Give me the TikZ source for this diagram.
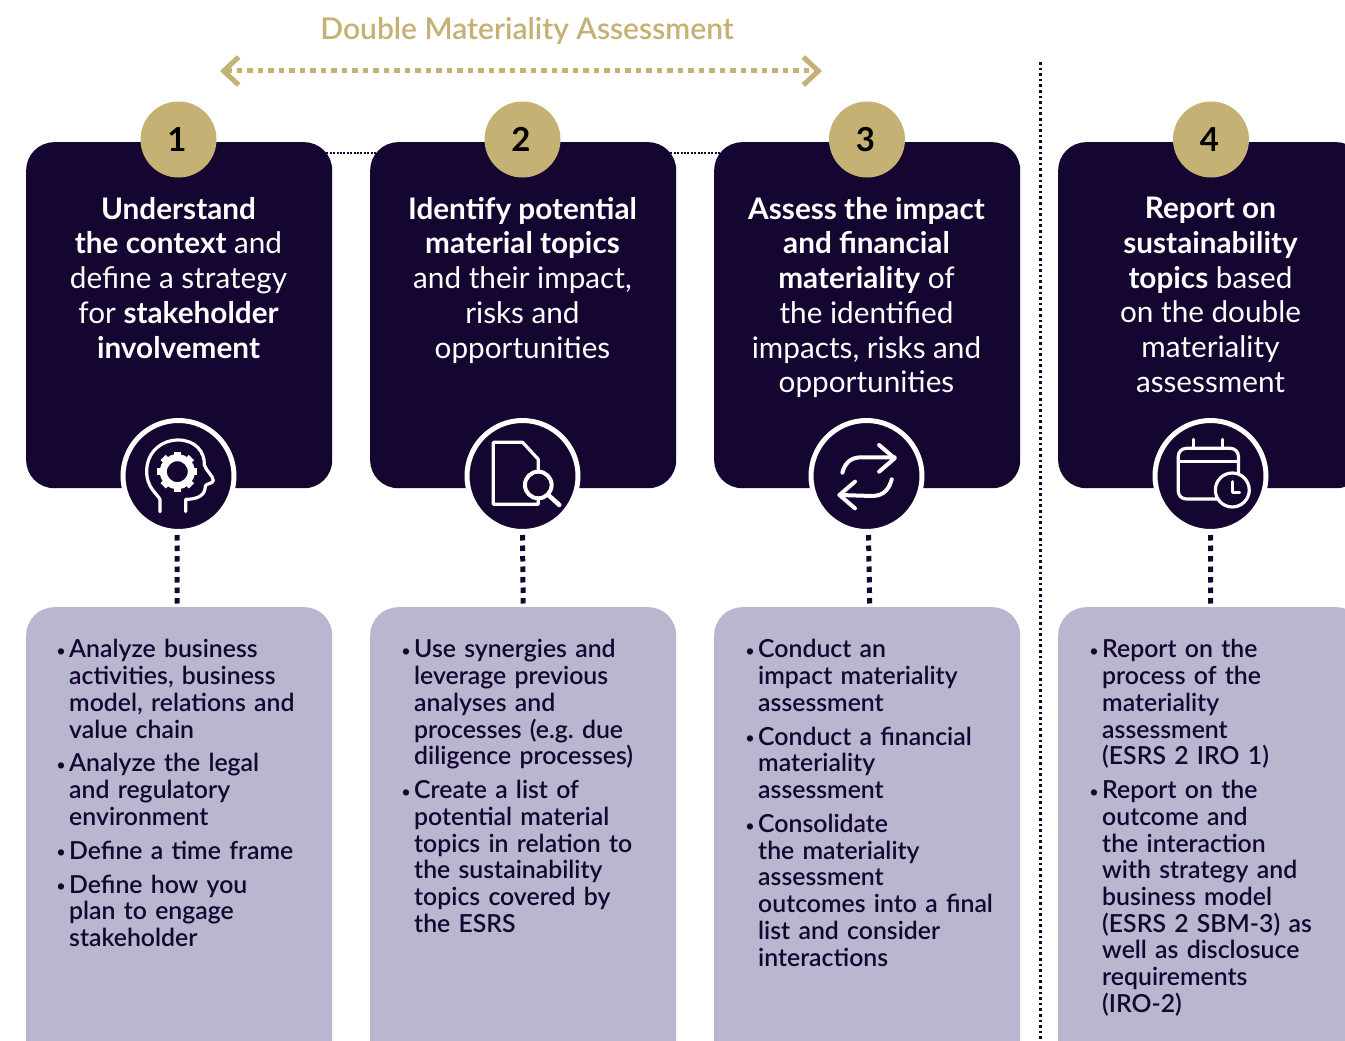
\documentclass[tikz,border=0pt]{standalone}
\usepackage{fontspec}
\setmainfont{Lato}
\newfontfamily\medfont{Lato Medium}
\newfontfamily\semifont{Lato Semibold}
\usetikzlibrary{arrows.meta}
\definecolor{navy}{HTML}{140631}
\definecolor{lilac}{HTML}{B9B6D0}
\definecolor{gold}{HTML}{C5B173}
\frenchspacing
\newcommand{\bitem}[2][7.2pt]{\par\vspace{#1}\noindent\makebox[0pt][r]{\makebox[12.5pt][l]{\raisebox{1.5pt}{\scalebox{.62}{\textbullet}}}}#2\par}
\newcommand{\numtxt}[1]{\hspace*{-3pt}\raisebox{-1pt}{#1}}
\tikzset{
  x=1pt,y=-1pt,
  headbox/.style={anchor=north west,fill=navy,rounded corners=28pt,minimum width=306pt,minimum height=346pt,inner sep=0pt},
  listbox/.style={anchor=north west,fill=lilac,rounded corners=28pt,minimum width=306pt,minimum height=480pt,inner sep=0pt},
  numdisc/.style={circle,fill=gold,minimum size=76pt,inner sep=0pt,font=\fontsize{33}{33}\selectfont\bfseries,text=black},
  icondisc/.style={circle,fill=navy,draw=white,line width=5pt,minimum size=111pt,inner sep=0pt},
  headtext/.style={anchor=north,align=center,text=white,inner sep=0pt,font=\fontsize{29.7}{34.7}\selectfont},
  listtext/.style={anchor=north west,inner sep=0pt,text width=270pt,text=navy,font=\fontsize{24.8}{26.7}\semifont},
  feet/.style={line width=5pt,draw=navy,dash pattern=on 5.5pt off 5pt},
  dots/.style={line width=2.4pt,draw=navy,dash pattern=on 2pt off 1.4pt},
  vdots/.style={line width=2.6pt,draw=navy,dash pattern=on 2.6pt off 3pt},
  span/.style={line width=5pt,draw=gold,dash pattern=on 5.5pt off 5pt,{Straight Barb[length=15pt,width=28pt,line width=5pt]}-{Straight Barb[length=15pt,width=28pt,line width=5pt]}},
  ico/.style={draw=white,line width=3.2pt,line cap=round,line join=round},
}
\begin{document}
\begin{tikzpicture}
\clip (0,0) rectangle (1345,1041);
\fill[white] (0,0) rectangle (1345,1041);

\node[text=gold,inner sep=0pt,font=\fontsize{30}{30}\semifont] (title) at (527,31) {Double Materiality Assessment};
\coordinate (spanL) at (220,71);
\coordinate (spanR) at (822,71);
\draw[span] (spanL) -- (spanR);

\coordinate (sepT) at (1040.5,62);
\coordinate (sepB) at (1040.5,1041);
\draw[vdots] (sepT) -- (sepB);

% boxes
\node[headbox] (box1) at (26,142) {};
\node[headbox] (box2) at (370,142) {};
\node[headbox] (box3) at (714,142) {};
\node[headbox] (box4) at (1058,142) {};
\node[listbox] (list1) at (26,607) {};
\node[listbox] (list2) at (370,607) {};
\node[listbox] (list3) at (714,607) {};
\node[listbox] (list4) at (1058,607) {};

\draw[dots] ([xshift=-6pt,yshift=-11pt]box1.north east) -- ([xshift=6pt,yshift=-11pt]box2.north west);
\draw[dots] ([xshift=-6pt,yshift=-11pt]box2.north east) -- ([xshift=6pt,yshift=-11pt]box3.north west);

% number discs
\node[numdisc] (n1) at (178.5,139.5) {\numtxt{1}};
\node[numdisc] (n2) at (522.5,139.5) {\numtxt{2}};
\node[numdisc] (n3) at (867,139.5) {\numtxt{3}};
\node[numdisc] (n4) at (1211,139.5) {\numtxt{4}};

% icon discs
\node[icondisc] (i1) at (178.5,476) {};
\node[icondisc] (i2) at (522.5,476) {};
\node[icondisc] (i3) at (866.5,476) {};
\node[icondisc] (i4) at (1210.5,476) {};

% connectors
\draw[feet] ([xshift=-1.5pt,yshift=-1pt]i1.south) -- ([xshift=-2pt,yshift=3.5pt]list1.north);
\draw[feet] ([yshift=-1pt]i2.south) -- ([yshift=3.5pt]list2.north);
\draw[feet] ([xshift=2pt,yshift=-1pt]i3.south) -- ([xshift=2.5pt,yshift=3.5pt]list3.north);
\draw[feet] ([yshift=-1pt]i4.south) -- ([yshift=3.5pt,xshift=-0.5pt]list4.north);

% head icon
\begin{scope}[shift={(100,400)},x=0.3333pt,y=-0.3333pt]
\draw[ico] (180,335) -- (180,298) .. controls (170,280) and (140,262) .. (140,215)
  .. controls (140,155) and (185,120) .. (235,120)
  .. controls (285,120) and (315,155) .. (313,195)
  .. controls (318,212) and (340,228) .. (340,242)
  .. controls (338,252) and (318,250) .. (316,258)
  .. controls (316,285) and (295,298) .. (257,298) -- (257,335);
\draw[draw=white,line width=7pt] (232,215) circle[radius=42];
\foreach \a in {0,45,...,315}{
  \draw[draw=white,line width=7.5pt] (232,215) ++(\a:44) -- ++(\a:16);
}
\end{scope}
% document icon
\begin{scope}[shift={(100,400)},x=0.3333pt,y=-0.3333pt]
\draw[ico] (1315,210) -- (1315,178) -- (1268,127) -- (1180,127) -- (1180,313) -- (1315,313) -- (1315,295);
\draw[ico,line width=4pt] (1315,255) circle[radius=40];
\draw[ico,line width=4.5pt] (1345,285) -- (1378,315);
\end{scope}
% arrows icon
\begin{scope}[shift={(780,400)},x=0.3604pt,y=-0.3333pt]
\draw[ico,line width=4pt] (173,218) .. controls (180,190) and (195,172) .. (225,172) -- (318,172);
\draw[ico,line width=4pt] (275,135) -- (318,175) -- (275,215);
\draw[ico,line width=4pt] (310,238) .. controls (303,265) and (290,288) .. (255,288) -- (165,285);
\draw[ico,line width=4pt] (208,245) -- (165,285) -- (208,325);
\end{scope}
% calendar icon
\begin{scope}[shift={(780,400)},x=0.3604pt,y=-0.3333pt]
\draw[ico,rounded corners=8pt] (1105,145) rectangle (1272,297);
\draw[ico] (1105,185) -- (1272,185);
\draw[ico] (1148,118) -- (1148,145);
\draw[ico] (1228,118) -- (1228,145);
\draw[ico,fill=navy] (1255,270) ellipse[x radius=47,y radius=51];
\draw[ico] (1255,245) -- (1255,278) -- (1275,278);
\end{scope}

% heading texts
\node[headtext] (h1) at (178.5,197) {\textbf{Understand}\\\textbf{the context} and\\define a strategy\\for \textbf{stakeholder}\\\textbf{involvement}};
\node[headtext] (h2) at (522.5,197) {\textbf{Identify potential}\\\textbf{material topics}\\and their impact,\\risks and\\opportunities};
\node[headtext] (h3) at (866.5,197) {\textbf{Assess the impact}\\\textbf{and financial}\\\textbf{materiality} of\\the identified\\impacts, risks and\\opportunities};
\node[headtext] (h4) at (1210.5,197) {\textbf{Report on}\\\textbf{sustainability}\\\textbf{topics} based\\on the double\\materiality\\assessment};

% list texts
\node[listtext] (t1) at (69,631) {%
\bitem[0pt]{Analyze business\newline activities, business\newline model, relations and\newline value chain}
\bitem{Analyze the legal\newline and regulatory\newline environment}
\bitem{Define a time frame}
\bitem{Define how you\newline plan to engage\newline stakeholder}};
\node[listtext] (t2) at (414,631) {%
\bitem[0pt]{Use synergies and\newline leverage previous\newline analyses and\newline processes (e.g. due\newline diligence processes)}
\bitem{Create a list of\newline potential material\newline topics in relation to\newline the sustainability\newline topics covered by\newline the ESRS}};
\node[listtext] (t3) at (758,631) {%
\bitem[0pt]{Conduct an\newline impact materiality\newline assessment}
\bitem{Conduct a financial\newline materiality\newline assessment}
\bitem{Consolidate\newline the materiality\newline assessment\newline outcomes into a final\newline list and consider\newline interactions}};
\node[listtext] (t4) at (1102,631) {%
\bitem[0pt]{Report on the\newline process of the\newline materiality\newline assessment\newline (ESRS 2 IRO 1)}
\bitem{Report on the\newline outcome and\newline the interaction\newline with strategy and\newline business model\newline (ESRS 2 SBM-3) as\newline well as disclosuce\newline requirements\newline (IRO-2)}};
\end{tikzpicture}
\end{document}
